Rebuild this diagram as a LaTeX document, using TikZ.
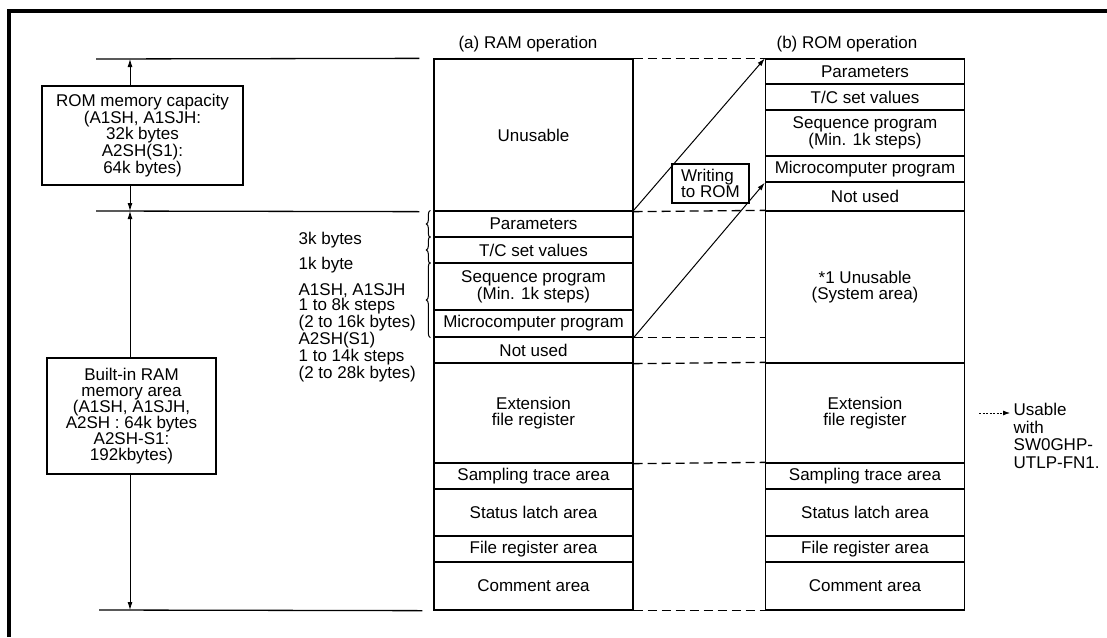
\documentclass[tikz,border=0pt]{standalone}
\usepackage{fontspec}
\setmainfont{Liberation Sans}
\usetikzlibrary{positioning,decorations.pathreplacing,arrows.meta}

\begin{document}
\begin{tikzpicture}[x=1pt,y=-1pt,line width=1.3pt,>={Latex[length=8pt,width=5pt]},
  every node/.style={inner sep=0pt,font=\fontsize{17}{15.2}\selectfont},
  cell/.style={draw,minimum width=199pt,align=center},
  brace/.style={decorate,decoration={brace,amplitude=4pt},line width=1pt},
  colsep/.style={dash pattern=on 9pt off 5pt}]

\useasboundingbox (0,0) rectangle (1107,637);

% Cadre
\draw[line width=3.5pt] (9,637) -- (9,11) -- (1107,11);

% Titres des colonnes
\node (tram) at (528,44) {(a) RAM operation};
\node (trom) at (847,44) {(b) ROM operation};

% Colonne (a) : fonctionnement en RAM
\foreach \nm/\ya/\yb/\txt in {ru/59/211/Unusable, rp/211/237/Parameters,
    rt/237/263/{T/C set values}, rs/263/310/{Sequence program\\(Min. 1k steps)},
    rm/310/337/Microcomputer program, rn/337/363/Not used,
    re/363/463/{Extension\\file register}, ra/463/489/Sampling trace area,
    rl/489/536/Status latch area, rf/536/562/File register area,
    rc/562/610/Comment area}
  \node[cell,minimum height={\yb-\ya}] (\nm) at (533.5,{(\ya+\yb)/2}) {\txt};

% Colonne (b) : fonctionnement en ROM
\foreach \nm/\ya/\yb/\txt in {sp/59/84/Parameters, st/84/110/{T/C set values},
    ss/110/156/{Sequence program\\(Min. 1k steps)},
    sm/156/182/Microcomputer program, sn/182/211/Not used,
    su/211/363/{*1 Unusable\\(System area)},
    se/363/463/{Extension\\file register}, sa/463/489/Sampling trace area,
    sl/489/536/Status latch area, sf/536/562/File register area,
    sc/562/610/Comment area}
  \node[cell,minimum height={\yb-\ya}] (\nm) at (865,{(\ya+\yb)/2}) {\txt};

% Liaisons entre colonnes
\draw[colsep] (ru.north east) -- (sp.north west);
\draw[colsep] (ru.south east) -- (su.north west);
\draw[colsep] (rm.south east) -- (rm.south east -| su.west);
\draw[colsep] (rn.south east) -- (se.north west);
\draw[colsep] (re.south east) -- (sa.north west);
\draw[colsep] (rc.south east) -- (sc.south west);

\draw[->,line width=1pt] (rp.north east) -- (sp.north west);
\draw[->,line width=1pt] (rm.south east) -- (sm.south west);
\node[draw,align=left,minimum width=77pt,minimum height=39pt] (wrom) at (710.5,183.5) {Writing\\to ROM};

% Tailles
\node[anchor=base west] (k3) at (298,244) {3k bytes};
\node[anchor=base west] (k1) at (298,269) {1k byte};
\node[anchor=north west,align=left] (kst) at (298,283)
  {A1SH, A1SJH\\1 to 8k steps\\(2 to 16k bytes)\\A2SH(S1)\\1 to 14k steps\\(2 to 28k bytes)};

\draw[brace] ([xshift=-3pt]rp.south west) -- ([xshift=-3pt]rp.north west);
\draw[brace] ([xshift=-3pt]rt.south west) -- ([xshift=-3pt]rt.north west);
\draw[brace] ([xshift=-3pt]rm.south west) -- ([xshift=-3pt]rs.north west);

% Cotes a gauche
\coordinate (gt) at (96,59);
\coordinate (gm) at (96,211);
\coordinate (gb) at (99,610);
\coordinate (ax) at (130,0);
\draw (gt) -- ([xshift=-14pt]ru.north west);
\draw (gm) -- ([xshift=-14pt]ru.south west);
\draw (gb) -- ([xshift=-11pt]rc.south west);

\node[draw,align=center,minimum width=201pt,minimum height=99pt,
  font=\fontsize{17}{15.7}\selectfont] (romcap) at (142.5,135.5)
  {ROM memory capacity\\(A1SH, A1SJH:\\32k bytes\\A2SH(S1):\\64k bytes)};
\node[draw,align=center,minimum width=169pt,minimum height=116pt,
  font=\fontsize{17}{16}\selectfont] (rambox) at (131.5,416)
  {Built-in RAM\\memory area\\(A1SH, A1SJH,\\A2SH : 64k bytes\\A2SH-S1:\\192kbytes)};

\draw[->,line width=0.9pt] (romcap.north -| ax) -- (ax |- gt);
\draw[->,line width=0.9pt] (romcap.south -| ax) -- (ax |- gm);
\draw[->,line width=0.9pt] (rambox.north -| ax) -- (ax |- gm);
\draw[->,line width=0.9pt] (rambox.south -| ax) -- (ax |- gb);

% Note a droite
\node[anchor=north west,align=left,font=\fontsize{17}{17.5}\selectfont] (use) at (1013,403)
  {Usable\\with\\SW0GHP-\\UTLP-FN1.};
\draw[-{Latex[length=7pt,width=5pt]},line width=0.8pt,dash pattern=on 2pt off 1.5pt]
  ([xshift=14pt]se.east) -- ([xshift=-3pt]se.east -| use.west);

\end{tikzpicture}
\end{document}
